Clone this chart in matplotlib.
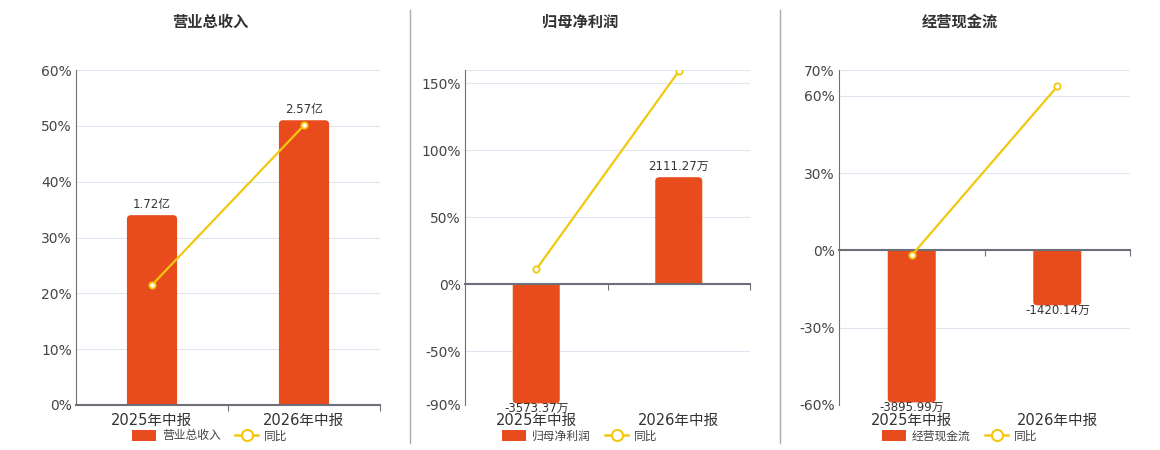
import matplotlib
matplotlib.use('Agg')
import matplotlib.pyplot as plt
from matplotlib.patches import Patch, PathPatch
from matplotlib.path import Path
from matplotlib.lines import Line2D
from matplotlib import transforms

plt.rcParams['font.family'] = ['DejaVu Sans', 'Noto Sans CJK SC']

periods = ['2025年中报', '2026年中报']
titles = ['营业总收入', '归母净利润', '经营现金流']

bar_heights = [[34.0, 51.0], [-88.8, 80.0], [-59.0, -21.3]]
bar_labels = [['1.72亿', '2.57亿'],
              ['-3573.37万', '2111.27万'],
              ['-3895.99万', '-1420.14万']]
yoy = [[21.5, 50.1], [11.2, 159.0], [-1.9, 63.6]]

yticks = [[0, 10, 20, 30, 40, 50, 60],
          [-90, -50, 0, 50, 100, 150, 160],
          [-60, -30, 0, 30, 60, 70]]
ytick_labels = [['0%', '10%', '20%', '30%', '40%', '50%', '60%'],
                ['-90%', '-50%', '0%', '50%', '100%', '150%', ''],
                ['-60%', '-30%', '0%', '30%', '60%', '70%']]

BAR = '#E84C1C'
LINE = '#F2C80F'
AXIS = '#6E7079'
GRID = '#E0E6F1'
TXT = '#333333'

W, H = 1160, 450
fig = plt.figure(figsize=(W / 100, H / 100), dpi=100)

# pixel boxes: left, right, top, bottom
boxes = [(76, 380, 70, 405), (465, 750, 70, 405), (839, 1130, 70, 405)]
centers = [210, 580, 960]


def rounded_end(x0, w, y0, h, rx, ry):
    # bar outline with the outer end rounded, base left square
    s = 1 if h >= 0 else -1
    e = y0 + h
    verts = [(x0, y0), (x0, e - s * ry), (x0, e), (x0 + rx, e),
             (x0 + w - rx, e), (x0 + w, e), (x0 + w, e - s * ry),
             (x0 + w, y0), (x0, y0)]
    codes = [Path.MOVETO, Path.LINETO, Path.CURVE3, Path.CURVE3,
             Path.LINETO, Path.CURVE3, Path.CURVE3, Path.LINETO, Path.CLOSEPOLY]
    return Path(verts, codes)


for k in range(3):
    l, r, t, b = boxes[k]
    ax = fig.add_axes([l / W, 1 - b / H, (r - l) / W, (b - t) / H])
    xs = list(range(len(periods)))

    ax.set_xlim(-0.5, 1.5)
    ax.set_ylim(yticks[k][0], yticks[k][-1])

    bars = ax.bar(xs, bar_heights[k], width=0.33, color=BAR, linewidth=0, zorder=2)
    o = ax.transData.transform((0, 0))
    px_x = ax.transData.transform((1, 0))[0] - o[0]
    px_y = ax.transData.transform((0, 1))[1] - o[1]
    for rect in bars:
        p = rounded_end(rect.get_x(), rect.get_width(), rect.get_y(), rect.get_height(),
                        4 / px_x, 4 / px_y)
        ax.add_patch(PathPatch(p, facecolor=BAR, edgecolor='none', linewidth=0, zorder=2))
        rect.set_visible(False)

    ax.plot(xs, yoy[k], color=LINE, lw=1.6, marker='o', markersize=4.5,
            markerfacecolor='white', markeredgecolor=LINE, markeredgewidth=1.3, zorder=4)

    for i, h in enumerate(bar_heights[k]):
        if h >= 0:
            ax.annotate(bar_labels[k][i], (i, h), xytext=(0, 3), textcoords='offset points',
                        ha='center', va='bottom', fontsize=8.5, color=TXT, zorder=5)
        else:
            ax.annotate(bar_labels[k][i], (i, h), xytext=(0, 1), textcoords='offset points',
                        ha='center', va='top', fontsize=8.5, color=TXT, zorder=5)

    ax.set_yticks(yticks[k])
    ax.set_yticklabels(ytick_labels[k])
    ax.tick_params(axis='y', length=0, labelsize=10, labelcolor='#444444', pad=3)
    ax.grid(axis='y', color=GRID, lw=0.8, zorder=0)

    for s in ['top', 'right']:
        ax.spines[s].set_visible(False)
    ax.spines['left'].set_color(AXIS)
    ax.spines['left'].set_linewidth(0.8)
    ax.spines['bottom'].set_position(('data', 0))
    ax.spines['bottom'].set_color(AXIS)
    ax.spines['bottom'].set_linewidth(1.5)
    ax.spines['bottom'].set_zorder(3)
    ax.set_xticks([0.5, 1.5])
    ax.set_xticklabels([])
    ax.tick_params(axis='x', direction='out', length=4, width=0.8, color=AXIS)

    trans = transforms.blended_transform_factory(ax.transData, ax.transAxes)
    for i, p in enumerate(periods):
        ax.text(i, -0.047, p, transform=trans, ha='center', va='center',
                fontsize=10.5, color=TXT)

    fig.text(centers[k] / W, 1 - 22 / H, titles[k], ha='center', va='center',
             fontsize=11, fontweight='bold', color=TXT)

    handles = [Patch(facecolor=BAR, edgecolor='none'),
               Line2D([], [], color=LINE, lw=1.8, marker='o', markersize=8,
                      markerfacecolor='white', markeredgecolor=LINE, markeredgewidth=1.5)]
    fig.legend(handles, [titles[k], '同比'], loc='center',
               bbox_to_anchor=(centers[k] / W, 1 - 436 / H), ncol=2, frameon=False,
               fontsize=8.5, handlelength=2.0, handleheight=1.1, handletextpad=0.5,
               columnspacing=1.2, labelcolor='#444444')

# separators between panels
for x in [410, 780]:
    fig.add_artist(Line2D([x / W, x / W], [1 - 443 / H, 1 - 10 / H],
                          color='#AAAAAA', lw=1.0))

fig.savefig('out.png', dpi=100)
